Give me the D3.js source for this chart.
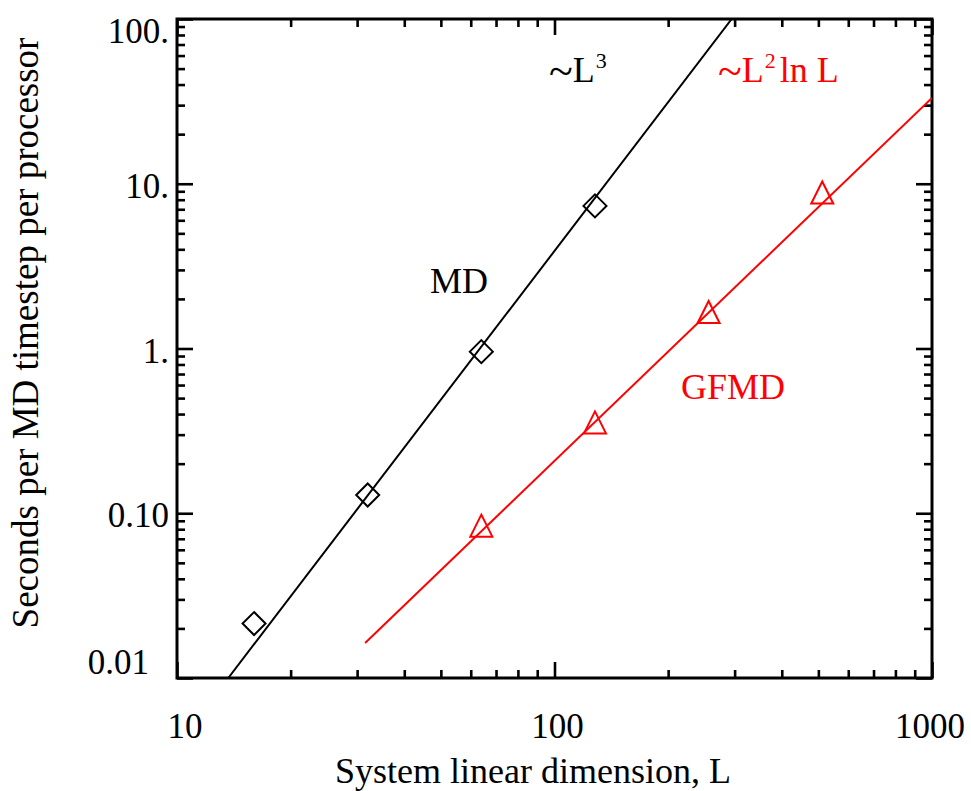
<!DOCTYPE html>
<html>
<head>
<meta charset="utf-8">
<script src="https://cdn.jsdelivr.net/npm/d3@7"></script>
<style>
  html, body { margin: 0; padding: 0; background: #fff; }
  svg { display: block; }
  text { font-family: "Liberation Serif", "DejaVu Serif", serif; }
</style>
</head>
<body>
<svg id="chart" width="971" height="791"></svg>
<script>
// measured points (L = system linear dimension, t = seconds per step)
const mdL = [16, 32, 64, 128];
const mdT = [0.0214, 0.129, 0.957, 7.34];
const gfmdL = [64, 128, 256, 512];
const gfmdT = [0.0841, 0.356, 1.667, 8.84];

// fit lines, end points
const mdFitL = [13.67, 294.7];
const mdFitT = [0.01, 100];
const gfmdFitL = [31.5, 1000];
const gfmdFitT = [0.0163, 33.2];

const xMajor = [10, 100, 1000];
const xMinor = [20, 30, 40, 50, 60, 70, 80, 90, 200, 300, 400, 500, 600, 700, 800, 900];
const xTickLabels = ["10", "100", "1000"];
const yMajor = [0.01, 0.1, 1, 10, 100];
const yMinor = [0.02, 0.03, 0.04, 0.05, 0.06, 0.07, 0.08, 0.09,
                0.2, 0.3, 0.4, 0.5, 0.6, 0.7, 0.8, 0.9,
                2, 3, 4, 5, 6, 7, 8, 9,
                20, 30, 40, 50, 60, 70, 80, 90];
const yTickLabels = ["0.01", "0.10", "1.", "10.", "100."];

const pLeft = 177, pRight = 932, pTop = 19, pBottom = 678;

const svg = d3.select("#chart");

const x = d3.scaleLog().domain([10, 1000]).range([pLeft, pRight]);
const y = d3.scaleLog().domain([0.01, 100]).range([pBottom, pTop]);

// ticks
const addAxis = (gen, tx, ty) => {
    let g = svg.append("g")
        .attr("transform", `translate(${tx},${ty})`)
        .call(gen);
    g.select(".domain").remove();
    g.selectAll(".tick line").attr("stroke", "#000").attr("stroke-width", 2.6);
    return g;
}

addAxis(d3.axisBottom(x).tickValues(xMajor).tickSize(-16).tickFormat(""), 0, pBottom);
addAxis(d3.axisBottom(x).tickValues(xMinor).tickSize(-8).tickFormat(""), 0, pBottom);
addAxis(d3.axisTop(x).tickValues(xMajor).tickSize(-16).tickFormat(""), 0, pTop);
addAxis(d3.axisTop(x).tickValues(xMinor).tickSize(-8).tickFormat(""), 0, pTop);
addAxis(d3.axisLeft(y).tickValues(yMajor).tickSize(-16).tickFormat(""), pLeft, 0);
addAxis(d3.axisLeft(y).tickValues(yMinor).tickSize(-8).tickFormat(""), pLeft, 0);
addAxis(d3.axisRight(y).tickValues(yMajor).tickSize(-16).tickFormat(""), pRight, 0);
addAxis(d3.axisRight(y).tickValues(yMinor).tickSize(-8).tickFormat(""), pRight, 0);

// tick labels
svg.append("g").selectAll("text")
    .data(xMajor)
    .enter().append("text")
    .attr("x", (d, i) => x(d) + [8, 3, -2][i])
    .attr("y", pBottom + 60)
    .attr("text-anchor", "middle")
    .attr("font-size", 35)
    .text((d, i) => xTickLabels[i]);

svg.append("g").selectAll("text")
    .data(yMajor)
    .enter().append("text")
    .attr("x", (d, i) => i === 0 ? pLeft - 28 : pLeft - 8)
    .attr("y", (d, i) => i === 0 ? y(d) - 4 : (i === yMajor.length - 1 ? y(d) + 24 : y(d) + 14))
    .attr("text-anchor", "end")
    .attr("font-size", 35)
    .text((d, i) => yTickLabels[i]);

// frame
svg.append("rect")
    .attr("x", pLeft).attr("y", pTop)
    .attr("width", pRight - pLeft).attr("height", pBottom - pTop)
    .attr("fill", "none").attr("stroke", "#000").attr("stroke-width", 3);

// axis titles
svg.append("text")
    .attr("x", 533).attr("y", 783)
    .attr("text-anchor", "middle")
    .attr("font-size", 36)
    .text("System linear dimension, L");

svg.append("text")
    .attr("transform", "translate(38,333) rotate(-90)")
    .attr("text-anchor", "middle")
    .attr("font-size", 37)
    .text("Seconds per MD timestep per processor");

// clip
svg.append("clipPath").attr("id", "plotclip")
    .append("rect")
    .attr("x", pLeft).attr("y", pTop)
    .attr("width", pRight - pLeft).attr("height", pBottom - pTop);

const plot = svg.append("g").attr("clip-path", "url(#plotclip)");

const line = d3.line()
    .x(d => x(d[0]))
    .y(d => y(d[1]));

plot.append("path")
    .datum(d3.zip(mdFitL, mdFitT))
    .attr("d", line)
    .attr("fill", "none").attr("stroke", "#000").attr("stroke-width", 2);

plot.append("path")
    .datum(d3.zip(gfmdFitL, gfmdFitT))
    .attr("d", line)
    .attr("fill", "none").attr("stroke", "#ff0000").attr("stroke-width", 2);

// markers
const diamond = "M0,-11.5L11.5,0L0,11.5L-11.5,0Z";
const triangle = "M0,-11L11,11L-11,11Z";

plot.selectAll(".md")
    .data(d3.zip(mdL, mdT))
    .enter().append("path")
    .attr("class", "md")
    .attr("transform", d => `translate(${x(d[0])},${y(d[1])})`)
    .attr("d", diamond)
    .attr("fill", "none").attr("stroke", "#000").attr("stroke-width", 2);

plot.selectAll(".gfmd")
    .data(d3.zip(gfmdL, gfmdT))
    .enter().append("path")
    .attr("class", "gfmd")
    .attr("transform", d => `translate(${x(d[0])},${y(d[1])})`)
    .attr("d", triangle)
    .attr("fill", "none").attr("stroke", "#ff0000").attr("stroke-width", 2);

// annotations
const scaling = (tx, ty, color, sup, rest) => {
    let t = svg.append("text")
        .attr("x", tx).attr("y", ty)
        .attr("font-size", 36)
        .attr("fill", color);
    t.append("tspan").attr("font-size", 44).attr("dy", 4).text("~");
    t.append("tspan").attr("dy", -4).text("L");
    t.append("tspan").attr("font-size", 22).attr("dx", 1).attr("dy", -14).text(sup);
    if (rest) t.append("tspan").attr("dx", 4).attr("dy", 14).text(rest);
}

scaling(549, 82, "#000", "3");
scaling(718, 82, "#ff0000", "2", "ln L");

svg.append("text")
    .attr("x", 430).attr("y", 293)
    .attr("font-size", 36)
    .text("MD");

svg.append("text")
    .attr("x", 681).attr("y", 399)
    .attr("font-size", 36)
    .attr("fill", "#ff0000")
    .text("GFMD");
</script>
</body>
</html>
